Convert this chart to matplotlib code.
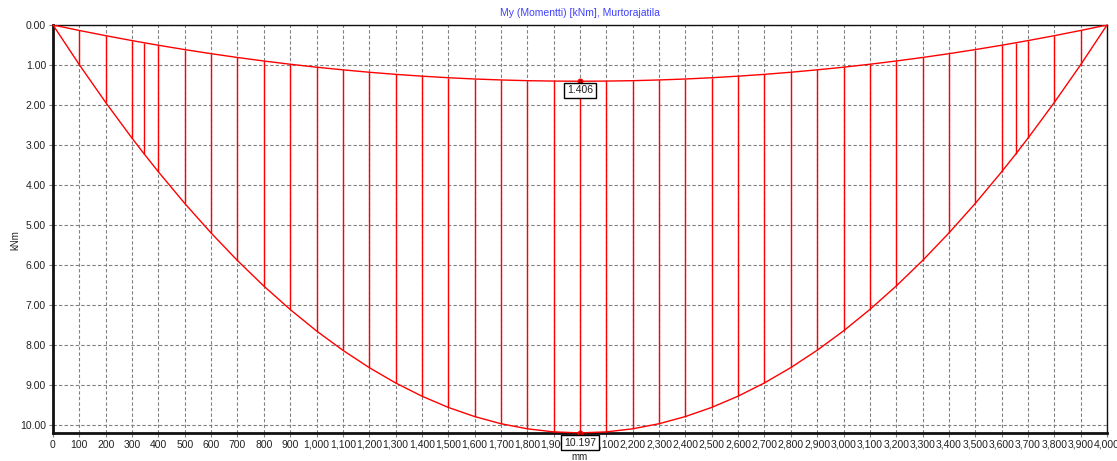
import matplotlib
matplotlib.use("Agg")
import matplotlib.pyplot as plt
from matplotlib.ticker import FuncFormatter, MultipleLocator

# Stations along the beam [mm]
stations = [0, 100, 200, 300, 345, 400, 500, 600, 700, 800, 900, 1000,
            1100, 1200, 1300, 1400, 1500, 1600, 1700, 1800, 1900, 2000,
            2100, 2200, 2300, 2400, 2500, 2600, 2700, 2800, 2900, 3000,
            3100, 3200, 3300, 3400, 3500, 3600, 3655, 3700, 3800, 3900, 4000]

# Lower envelope of My [kNm]
moment_min = [0.000, 0.137, 0.267, 0.390, 0.443, 0.506, 0.615, 0.717, 0.812,
              0.900, 0.981, 1.055, 1.121, 1.181, 1.234, 1.279, 1.318, 1.350,
              1.374, 1.392, 1.402, 1.406, 1.402, 1.392, 1.374, 1.350, 1.318,
              1.279, 1.234, 1.181, 1.121, 1.055, 0.981, 0.900, 0.812, 0.717,
              0.615, 0.506, 0.443, 0.390, 0.267, 0.137, 0.000]

# Upper envelope of My [kNm]
moment_max = [0.000, 0.994, 1.937, 2.830, 3.215, 3.671, 4.461, 5.200, 5.889,
              6.526, 7.112, 7.648, 8.132, 8.565, 8.948, 9.279, 9.560, 9.789,
              9.968, 10.095, 10.172, 10.197, 10.172, 10.095, 9.968, 9.789,
              9.560, 9.279, 8.948, 8.565, 8.132, 7.648, 7.112, 6.526, 5.889,
              5.200, 4.461, 3.671, 3.215, 2.830, 1.937, 0.994, 0.000]

peak_x = 2000
peak_min = 1.406
peak_max = 10.197

title = "My (Momentti) [kNm], Murtorajatila"

W, H = 1117, 461
fig = plt.figure(figsize=(W / 100, H / 100), dpi=100)
ax = fig.add_axes([53 / W, (H - 433) / H, (1107 - 53) / W, (433 - 25) / H])

font = "Liberation Sans"
txt_color = "#222222"
red = "#ff0000"

ax.set_xlim(0, 4000)
ax.set_ylim(10.2, 0)

ax.xaxis.set_major_locator(MultipleLocator(100))
ax.yaxis.set_major_locator(MultipleLocator(1))
ax.xaxis.set_major_formatter(FuncFormatter(lambda v, p: f"{int(round(v)):,}"))
ax.yaxis.set_major_formatter(FuncFormatter(lambda v, p: f"{v:.2f}"))

ax.grid(True, color="#808080", linestyle=(0, (3, 2)), linewidth=0.8)
ax.set_axisbelow(True)

ax.tick_params(axis="both", length=3, width=0.8, color="#808080",
               labelsize=7.5, labelcolor=txt_color, pad=2)
for lab in ax.get_xticklabels() + ax.get_yticklabels():
    lab.set_family(font)

for side in ("left", "bottom"):
    ax.spines[side].set_linewidth(2)
    ax.spines[side].set_color("#111111")
for side in ("top", "right"):
    ax.spines[side].set_linewidth(1)
    ax.spines[side].set_color("#111111")

# Envelopes and the hatching between them
ax.plot(stations, moment_min, color=red, lw=1, zorder=3)
ax.plot(stations, moment_max, color=red, lw=1, zorder=3, clip_on=False)
ax.vlines(stations[1:-1], moment_min[1:-1], moment_max[1:-1],
          color=red, lw=1, zorder=3)

# Peak markers with value boxes
for val, off in ((peak_min, -9), (peak_max, -10)):
    ax.plot([peak_x], [val], marker="o", ms=3.5, mfc="#aa0000", mec=red,
            mew=0.8, zorder=5, clip_on=False)
    ax.annotate(f"{val:.3f}", xy=(peak_x, val), xytext=(0, off),
                textcoords="offset pixels", ha="center", va="center",
                fontsize=7.5, family=font, color=txt_color, zorder=6,
                annotation_clip=False,
                bbox=dict(boxstyle="square,pad=0.25", fc="white",
                          ec="black", lw=1))

fig.text(580 / W, 1 - 13 / H, title, ha="center", va="center",
         fontsize=7.5, family=font, color="#4040ff")
fig.text(580 / W, 1 - 457 / H, "mm", ha="center", va="center",
         fontsize=7, family=font, color=txt_color)
fig.text(15 / W, 1 - 240 / H, "kNm", ha="center", va="center",
         rotation=90, fontsize=7, family=font, color=txt_color)

fig.savefig("out.png", dpi=100)
